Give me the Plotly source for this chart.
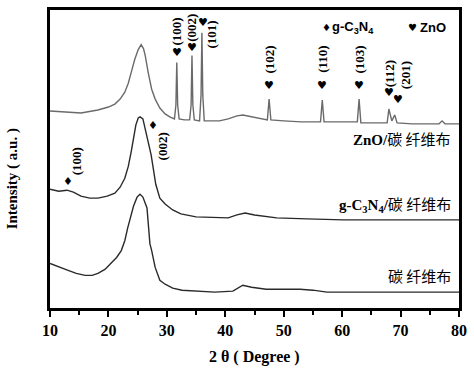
import plotly.graph_objects as go

# ---- data (2θ in degrees, intensity in arbitrary units; curves offset as in the picture) ----
znocc_x = [10, 12.5, 15.3, 18.2, 20, 21.1, 22.0, 22.8, 23.4, 23.9, 24.5, 25.1, 25.6, 26.0, 26.3, 26.8,
           27.4, 28.0, 28.8, 29.7, 30.5, 31.3, 31.55, 31.7, 31.85, 32.1, 33.0, 33.9, 34.15, 34.3, 34.45,
           34.7, 35.6, 35.85, 36.0, 36.15, 36.4, 37.5, 39, 40.5, 42, 43, 44.5, 46.5, 47.2, 47.5, 47.8,
           50, 53, 56.3, 56.6, 56.9, 60, 62.6, 62.9, 63.2, 66, 67.7, 68.0, 68.5, 69.0, 69.4, 72, 76.6,
           77.1, 77.6, 80]
znocc_y = [199, 198, 197, 200, 203, 206, 211, 218, 227, 238, 251, 261, 266, 262, 255, 238,
           221, 211, 202, 196, 193, 191, 205, 248, 205, 191, 190, 190, 205, 255, 205,
           190, 189, 215, 278, 215, 189, 189, 189, 191, 194, 195, 193, 191, 190, 211, 190,
           189, 188, 188, 210, 188, 188, 188, 211, 187, 187, 187, 201, 189, 195, 187, 186, 186,
           189, 186, 186]

gcn_x = [10, 11.5, 12.9, 14, 15.3, 16.8, 18.2, 19.8, 21.1, 22.0, 22.8, 23.4, 23.9, 24.3, 24.7, 25.1,
         25.4, 25.9, 26.4, 26.9, 27.3, 27.7, 28.1, 28.8, 29.7, 31, 32.4, 35, 38.2, 40.5, 42, 43.4,
         45, 48.8, 54, 60.2, 70, 80]
gcn_y = [120, 118, 119, 117, 113, 111, 111, 113, 116, 122, 131, 143, 158, 172, 185, 192,
         193, 191, 178, 166, 155, 140, 125, 111, 105, 99, 95, 92, 91, 91, 94, 96,
         94, 91, 90, 89, 89, 89]

cc_x = [10, 11.5, 13.1, 14.5, 16, 17.2, 18.2, 19.4, 20.4, 21.4, 22.2, 22.8, 23.3, 23.8, 24.3, 24.9,
        25.4, 25.9, 26.6, 27.1, 27.4, 28.0, 28.8, 29.7, 31, 32.6, 35, 38.2, 41.3, 43, 44.5, 47, 50,
        52.8, 55, 57.4, 65, 80]
cc_y = [45, 42, 38, 35, 33, 33, 35, 39, 45, 51, 58, 68, 81, 93, 103, 112,
        115, 112, 101, 65, 58, 41, 28, 24, 20, 18, 17, 16, 17, 23, 21, 19, 19,
        19, 18, 16, 16, 16]

zno_labels = ["(100)", "(002)", "(101)", "(102)", "(110)", "(103)", "(112)", "(201)"]
zno_mark_x = [31.8, 34.3, 36.2, 47.5, 56.6, 62.9, 68.0, 69.6]
zno_mark_y = [258, 263, 288, 225, 225, 225, 218, 211]
zno_text_x = [31.7, 34.3, 37.7, 47.5, 56.6, 62.9, 68.0, 70.9]
zno_text_y = [279, 283, 276, 251, 251, 251, 237, 235]

gcn_labels = ["(100)", "(002)"]
gcn_mark_x = [13.1, 27.6]
gcn_mark_y = [128, 184]
gcn_text_x = [14.6, 29.3]
gcn_text_y = [148, 163]

x_ticks = [10, 20, 30, 40, 50, 60, 70, 80]

SERIF = "Liberation Serif"
SANS = "Liberation Sans"
CJK = "Noto Sans CJK SC"

fig = go.Figure()
fig.add_trace(go.Scatter(x=znocc_x, y=znocc_y, mode="lines",
                         line=dict(color="#6a6a6a", width=1.4), showlegend=False))
fig.add_trace(go.Scatter(x=gcn_x, y=gcn_y, mode="lines",
                         line=dict(color="#2a2a2a", width=1.4), showlegend=False))
fig.add_trace(go.Scatter(x=cc_x, y=cc_y, mode="lines",
                         line=dict(color="#2a2a2a", width=1.4), showlegend=False))

ann = []
for lab, mx, my, tx, ty in zip(zno_labels, zno_mark_x, zno_mark_y, zno_text_x, zno_text_y):
    ann.append(dict(x=mx, y=my, xref="x", yref="y", text="♥", showarrow=False,
                    font=dict(family="DejaVu Sans", size=11, color="black")))
    ann.append(dict(x=tx, y=ty, xref="x", yref="y", text="<b>%s</b>" % lab, showarrow=False,
                    textangle=-90, font=dict(family=SERIF, size=13, color="black")))
for lab, mx, my, tx, ty in zip(gcn_labels, gcn_mark_x, gcn_mark_y, gcn_text_x, gcn_text_y):
    ann.append(dict(x=mx, y=my, xref="x", yref="y", text="♦", showarrow=False,
                    font=dict(family="DejaVu Sans", size=11, color="black")))
    ann.append(dict(x=tx, y=ty, xref="x", yref="y", text="<b>%s</b>" % lab, showarrow=False,
                    textangle=-90, font=dict(family=SERIF, size=13, color="black")))

# legend-like key
ann.append(dict(x=57.3, y=283, xref="x", yref="y", text="♦", showarrow=False,
                font=dict(family="DejaVu Sans", size=10, color="black")))
ann.append(dict(x=58.0, y=283, xref="x", yref="y", xanchor="left",
                text="<b>g-C<sub>3</sub>N<sub>4</sub></b>", showarrow=False,
                font=dict(family=SANS, size=13, color="black")))
ann.append(dict(x=72.1, y=283, xref="x", yref="y", text="♥", showarrow=False,
                font=dict(family="DejaVu Sans", size=10, color="black")))
ann.append(dict(x=73.0, y=283, xref="x", yref="y", xanchor="left",
                text="<b>ZnO</b>", showarrow=False,
                font=dict(family=SANS, size=13, color="black")))

# sample labels
cjk = "<span style='font-family:%s'>碳 纤维布</span>" % CJK
ann.append(dict(x=79.0, y=171, xref="x", yref="y", xanchor="right",
                text="<b>ZnO/</b>" + cjk, showarrow=False,
                font=dict(family=SERIF, size=15, color="black")))
ann.append(dict(x=79.0, y=105, xref="x", yref="y", xanchor="right",
                text="<b>g-C<sub>3</sub>N<sub>4</sub>/</b>" + cjk, showarrow=False,
                font=dict(family=SERIF, size=15, color="black")))
ann.append(dict(x=79.0, y=33, xref="x", yref="y", xanchor="right",
                text=cjk, showarrow=False,
                font=dict(family=SERIF, size=15, color="black")))

# axis titles
ann.append(dict(x=0.5, y=-0.166, xref="paper", yref="paper", xanchor="center", yanchor="middle",
                text="<b>2 θ ( Degree )</b>", showarrow=False,
                font=dict(family=SERIF, size=16, color="black")))
ann.append(dict(x=-0.093, y=0.435, xref="paper", yref="paper", xanchor="center", yanchor="middle",
                textangle=-90, text="<b>Intensity ( a.u. )</b>", showarrow=False,
                font=dict(family=SERIF, size=15, color="black")))

fig.update_layout(
    width=474, height=373,
    margin=dict(l=50, r=15, t=7, b=65),
    paper_bgcolor="white", plot_bgcolor="white",
    annotations=ann,
    xaxis=dict(range=[10, 80], tickvals=x_ticks, ticktext=["<b>%d</b>" % v for v in x_ticks],
               ticks="outside", ticklen=6, tickwidth=2, tickcolor="black",
               minor=dict(dtick=5, tick0=10, ticks="outside", ticklen=4, tickwidth=2, tickcolor="black"),
               showline=True, linewidth=2.5, linecolor="black", mirror=True,
               showgrid=False, zeroline=False,
               tickfont=dict(family=SERIF, size=16, color="black")),
    yaxis=dict(range=[0, 301], showticklabels=False, ticks="",
               showline=True, linewidth=2.5, linecolor="black", mirror=True,
               showgrid=False, zeroline=False),
)

fig.write_html("out.html", config={"displayModeBar": False},
               post_script="document.body.style.margin='0px';")
